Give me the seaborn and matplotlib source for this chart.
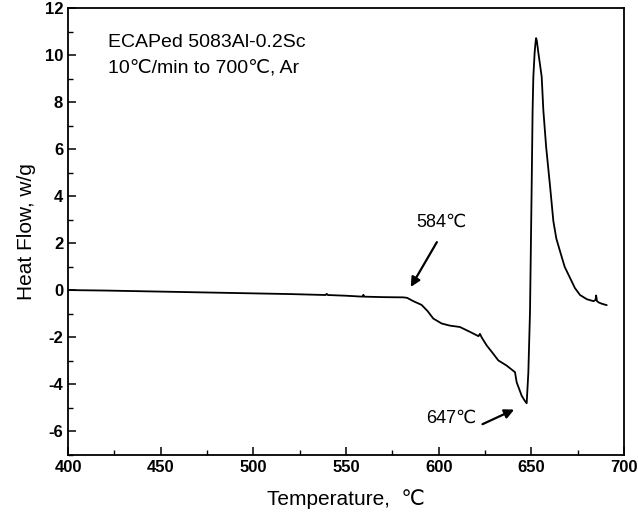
import numpy as np
import pandas as pd
import matplotlib
matplotlib.use("Agg")
import matplotlib.pyplot as plt
import seaborn as sns
from matplotlib.ticker import MultipleLocator

# DSC trace
temperature = [400, 420, 440, 460, 480, 500, 520, 539, 539.6, 540.2, 550, 559, 559.4, 559.8,
               570, 581, 583, 586.3, 590.8, 594, 597.1, 601.6, 606, 611.5, 617, 621.5,
               622.3, 623.2, 625.9, 629, 632.2, 636.7, 641.2, 642.1, 644.8, 646.5, 647.5,
               648.4, 649.3, 650.2, 650.7, 651.1, 651.8, 652.3, 652.6, 653.0, 653.8, 655.6,
               656.5, 658.0, 660.1, 661.9, 663.5, 665.5, 668, 671, 673.5, 676.3, 680, 683.5,
               684.6, 685, 685.4, 686.2, 688, 690.7]
heat_flow = [0.01, -0.01, -0.04, -0.07, -0.10, -0.13, -0.16, -0.20, -0.15, -0.20, -0.23, -0.27,
             -0.19, -0.27, -0.29, -0.30, -0.32, -0.46, -0.62, -0.88, -1.20, -1.41, -1.50, -1.56,
             -1.77, -1.95, -1.85, -2.00, -2.34, -2.65, -2.98, -3.20, -3.48, -3.91, -4.48, -4.70,
             -4.80, -3.50, -0.91, 4.44, 7.65, 9.08, 10.10, 10.55, 10.72, 10.60, 10.10, 9.08,
             7.65, 6.10, 4.44, 2.94, 2.20, 1.66, 1.00, 0.51, 0.10, -0.20, -0.38, -0.46,
             -0.42, -0.22, -0.45, -0.51, -0.57, -0.63]

x_ticks = [400, 450, 500, 550, 600, 650, 700]
y_ticks = [-6, -4, -2, 0, 2, 4, 6, 8, 10, 12]

sns.set_style("ticks")
plt.rcParams["font.family"] = ["Liberation Sans", "DejaVu Sans"]
plt.rcParams["axes.unicode_minus"] = False
plt.rcParams["xtick.direction"] = "in"
plt.rcParams["ytick.direction"] = "in"
plt.rcParams["text.color"] = "black"
plt.rcParams["axes.labelcolor"] = "black"
plt.rcParams["xtick.color"] = "black"
plt.rcParams["ytick.color"] = "black"

df = pd.DataFrame({"Temperature": temperature, "Heat Flow": heat_flow})

fig = plt.figure(figsize=(6.38, 5.15), dpi=100)
ax = fig.add_axes([0.1066, 0.1165, 0.8714, 0.868])
sns.lineplot(data=df, x="Temperature", y="Heat Flow", ax=ax, color="black",
             linewidth=1.3, sort=False, estimator=None)

ax.set_xlim(400, 700)
ax.set_ylim(-7, 12)
ax.set_xticks(x_ticks)
ax.set_yticks(y_ticks)
ax.xaxis.set_minor_locator(MultipleLocator(25))
ax.yaxis.set_minor_locator(MultipleLocator(1))
ax.tick_params(which="major", length=6, width=1.1, labelsize=12)
ax.tick_params(which="minor", length=3.5, width=1.0)
for lab in ax.get_xticklabels() + ax.get_yticklabels():
    lab.set_fontweight("bold")
for sp in ax.spines.values():
    sp.set_linewidth(1.3)
    sp.set_color("black")

ax.set_xlabel("Temperature,  \u2103", fontsize=15, labelpad=10)
ax.set_ylabel("Heat Flow, w/g", fontsize=15, labelpad=6)

ax.text(421.5, 10.55, "ECAPed 5083Al-0.2Sc", fontsize=14, va="center")
ax.text(421.5, 9.45, "10\u2103/min to 700\u2103, Ar", fontsize=14, va="center")

ax.annotate("", xy=(584.2, 0.04), xytext=(599.8, 2.15),
            arrowprops=dict(arrowstyle="-|>", color="black", lw=1.6, mutation_scale=14))
ax.text(601.6, 2.9, "584\u2103", fontsize=13, ha="center", va="center")
ax.annotate("", xy=(642.1, -5.02), xytext=(622.3, -5.74),
            arrowprops=dict(arrowstyle="-|>", color="black", lw=1.6, mutation_scale=14))
ax.text(607, -5.45, "647\u2103", fontsize=13, ha="center", va="center")

fig.savefig("out.png", dpi=100)
